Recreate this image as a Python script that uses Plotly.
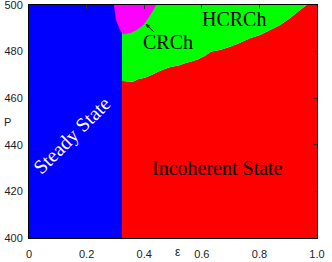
import plotly.graph_objects as go

# ---- data ----
eps_steady_edge = 0.323          # steady-state / other boundary in epsilon
p_min, p_max = 400, 500

# boundary between Incoherent State (below) and HCRCh (above)
bound_eps = [0.323, 0.361, 0.378, 0.402, 0.425, 0.448, 0.471, 0.494, 0.517, 0.541,
             0.564, 0.587, 0.610, 0.633, 0.663, 0.698, 0.733, 0.767, 0.802, 0.837,
             0.872, 0.906, 0.941, 0.964]
bound_P = [467.4, 467.1, 468.1, 468.8, 470.0, 471.4, 472.5, 473.5, 473.9, 475.0,
           475.7, 476.7, 478.1, 480.0, 480.7, 482.1, 483.8, 485.7, 487.1, 489.3,
           491.4, 494.3, 497.9, 500.0]

# CRCh region outline
crch_eps = [0.295, 0.302, 0.316, 0.327, 0.351, 0.374, 0.397, 0.414, 0.432, 0.441]
crch_P = [500.0, 493.6, 489.3, 487.4, 487.9, 489.3, 491.4, 494.3, 497.9, 500.0]

x_ticks = [0, 0.2, 0.4, 0.6, 0.8, 1.0]
x_ticktext = ["0", "0.2", "0.4", "0.6", "0.8", "1.0"]
y_ticks = [400, 420, 440, 460, 480, 500]

fig = go.Figure()

# Steady state (blue)
fig.add_trace(go.Scatter(
    x=[0, eps_steady_edge, eps_steady_edge, 0], y=[p_min, p_min, p_max, p_max],
    fill="toself", fillcolor="#0000ff", mode="none", hoverinfo="skip", showlegend=False))

# Incoherent state (red)
fig.add_trace(go.Scatter(
    x=[eps_steady_edge, 1.0, 1.0] + bound_eps[::-1],
    y=[p_min, p_min, p_max] + bound_P[::-1],
    fill="toself", fillcolor="#ff0000", mode="none", hoverinfo="skip", showlegend=False))

# HCRCh (green)
fig.add_trace(go.Scatter(
    x=bound_eps + [eps_steady_edge],
    y=bound_P + [p_max],
    fill="toself", fillcolor="#00ff00", mode="none", hoverinfo="skip", showlegend=False))

# CRCh (magenta)
fig.add_trace(go.Scatter(
    x=crch_eps, y=crch_P,
    fill="toself", fillcolor="#ff00ff", mode="none", hoverinfo="skip", showlegend=False))

# invisible trace for the mirrored tick axes
fig.add_trace(go.Scatter(x=[0.5], y=[450], xaxis="x2", yaxis="y2", mode="markers",
                         marker=dict(opacity=0), hoverinfo="skip", showlegend=False))

serif = "Liberation Serif"
sans = "Liberation Sans"

fig.update_layout(
    width=332, height=262,
    margin=dict(l=29, r=15, t=5, b=24),
    paper_bgcolor="white", plot_bgcolor="white",
    xaxis=dict(range=[0, 1], tickvals=x_ticks, ticktext=x_ticktext, ticks="",
               showgrid=False, zeroline=False, showline=True, linecolor="black",
               linewidth=1, mirror=True, automargin=False, ticklabeloverflow="allow",
               ticklabelstandoff=6,
               tickfont=dict(family=sans, size=11, color="#222")),
    yaxis=dict(range=[p_min, p_max], tickvals=y_ticks, ticks="",
               showgrid=False, zeroline=False, showline=True, linecolor="black",
               linewidth=1, mirror=True, automargin=False, ticklabeloverflow="allow",
               ticklabelstandoff=3,
               tickfont=dict(family=sans, size=11, color="#222")),
    xaxis2=dict(range=[0, 1], overlaying="x", side="top", anchor="y", tickvals=x_ticks,
                ticks="inside", ticklen=4, tickcolor="#333", showticklabels=False,
                showgrid=False, zeroline=False, automargin=False),
    yaxis2=dict(range=[p_min, p_max], overlaying="y", side="right", anchor="x",
                tickvals=y_ticks, ticks="inside", ticklen=4, tickcolor="#333",
                showticklabels=False, showgrid=False, zeroline=False, automargin=False),
    annotations=[
        dict(x=0.149, y=444.2, text="Steady State", showarrow=False, textangle=-45,
             font=dict(family=serif, size=20, color="white")),
        dict(x=0.656, y=430.0, text="Incoherent State", showarrow=False,
             font=dict(family=serif, size=20, color="black")),
        dict(x=0.712, y=493.8, text="HCRCh", showarrow=False,
             font=dict(family=serif, size=20, color="black")),
        dict(x=0.483, y=484.1, text="CRCh", showarrow=False,
             font=dict(family=serif, size=20, color="black")),
        dict(x=0.406, y=491.8, ax=9, ay=9, text="", showarrow=True, arrowhead=2,
             arrowsize=0.8, arrowwidth=1, arrowcolor="black"),
        dict(xref="paper", yref="paper", x=-0.095, y=0.5, text="P", showarrow=False,
             font=dict(family=sans, size=11, color="#222")),
        dict(xref="paper", yref="paper", x=0.517, y=-0.1, text="ε", showarrow=False,
             font=dict(family=sans, size=12, color="#222")),
    ],
)

fig.write_html("out.html", config={"displayModeBar": False},
               post_script="document.body.style.margin='0';")
